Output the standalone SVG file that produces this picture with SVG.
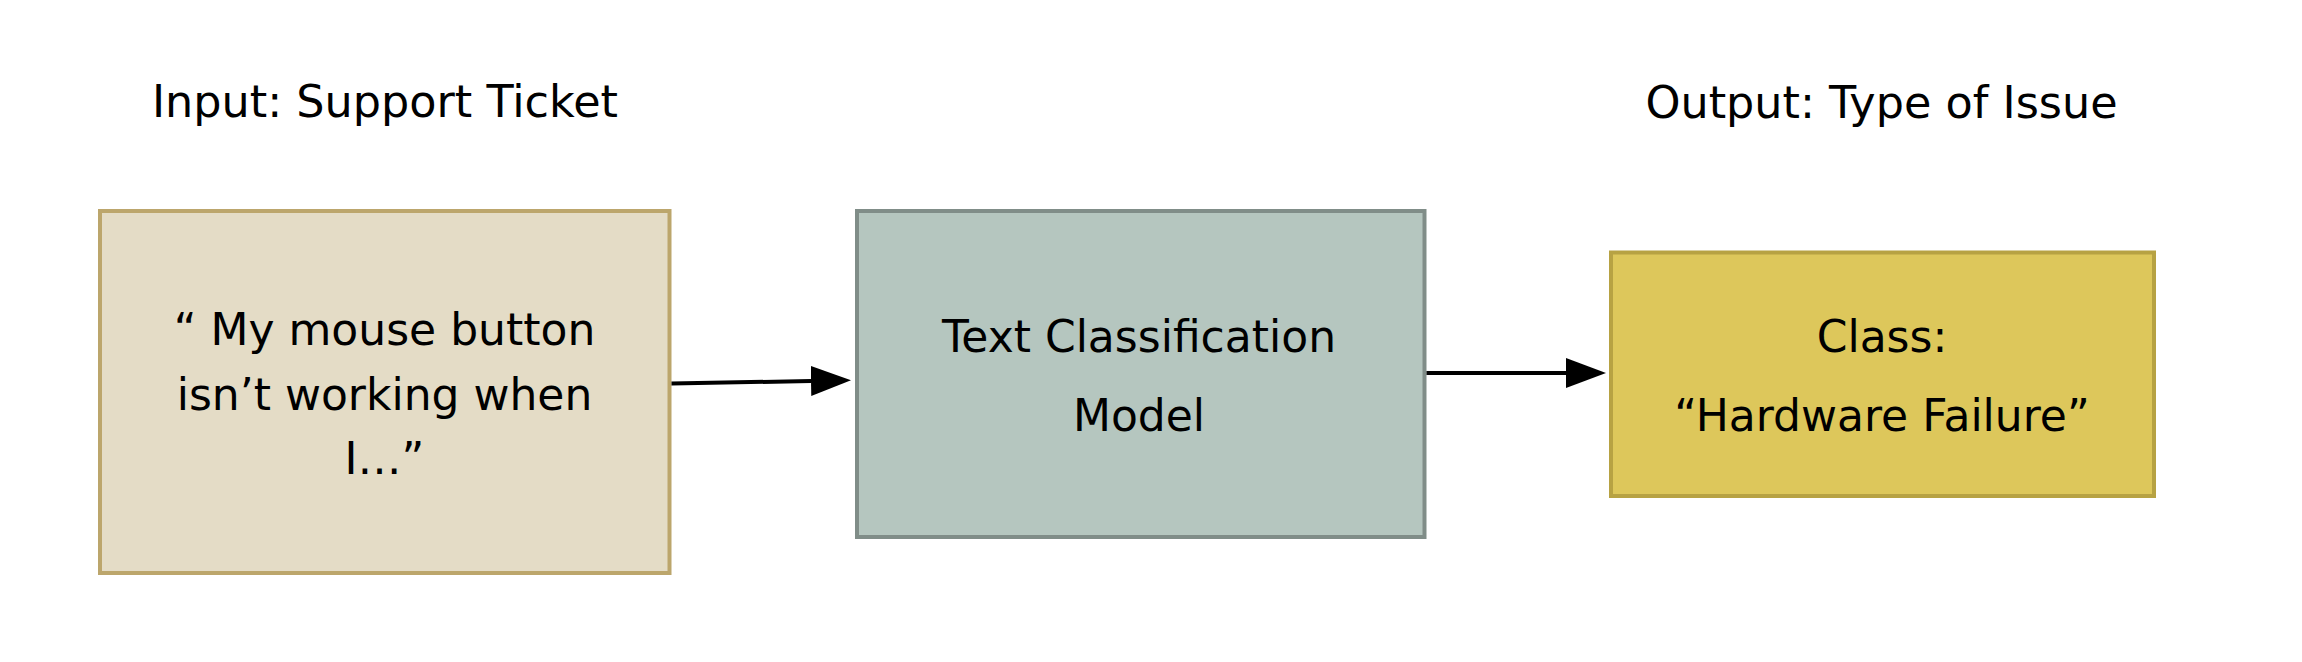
<svg xmlns="http://www.w3.org/2000/svg" width="2302" height="662" viewBox="0 0 2302 662">
  <style>
    .t { font-family: "DejaVu Sans", "Liberation Sans", sans-serif; fill: #000; text-anchor: middle; }
    .title { font-size: 44.5px; }
    .lbl { font-size: 44px; }
    .conn { stroke: #000; stroke-width: 4; fill: none; }
  </style>
  <defs>
    <marker id="head" viewBox="0 0 40 30" refX="0" refY="15" markerWidth="40" markerHeight="30" markerUnits="userSpaceOnUse" orient="auto">
      <path d="M0,0 L40,15 L0,30 z" fill="#000"/>
    </marker>
  </defs>
  <rect width="2302" height="662" fill="#fff"/>

  <g id="input-title">
    <text class="t title" x="385" y="117">Input: Support Ticket</text>
  </g>
  <g id="output-title">
    <text class="t title" x="1881.5" y="118">Output: Type of Issue</text>
  </g>

  <g id="input">
    <rect x="100" y="211" width="569.5" height="362" fill="#E4DCC6" stroke="#BCA66C" stroke-width="4"/>
    <text class="t lbl" x="384.5" y="345">“ My mouse button</text>
    <text class="t lbl" x="384.5" y="409.5">isn’t working when</text>
    <text class="t lbl" x="384.5" y="473.5">I…”</text>
  </g>

  <g id="model">
    <rect x="857" y="211" width="567.5" height="326" fill="#B5C6BF" stroke="#808D88" stroke-width="4"/>
    <text class="t lbl" x="1139" y="352">Text Classification</text>
    <text class="t lbl" x="1139" y="431">Model</text>
  </g>

  <g id="output">
    <rect x="1611" y="252.5" width="543" height="243.5" fill="#DDC75B" stroke="#B7A243" stroke-width="4"/>
    <text class="t lbl" x="1882" y="352">Class:</text>
    <text class="t lbl" x="1882" y="431">“Hardware Failure”</text>
  </g>

  <g id="connectors">
    <line class="conn" x1="671.5" y1="383.5" x2="811" y2="381" marker-end="url(#head)"/>
    <line class="conn" x1="1426.5" y1="373" x2="1566" y2="373" marker-end="url(#head)"/>
  </g>
</svg>
